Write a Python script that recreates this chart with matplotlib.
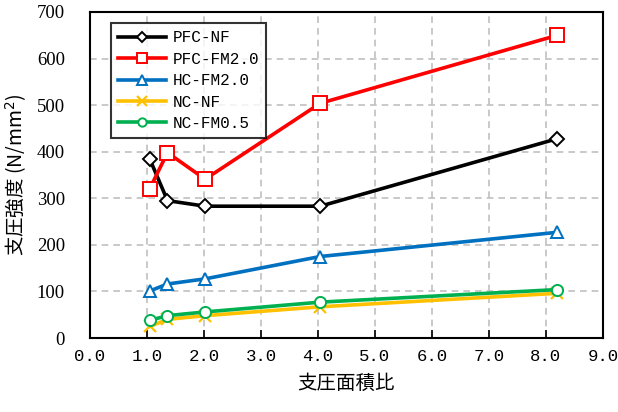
import matplotlib
matplotlib.use('Agg')
import matplotlib.pyplot as plt

x_ratio = [1.05, 1.36, 2.02, 4.04, 8.2]

pfc_nf = [384, 295, 283, 283, 428]
pfc_fm20 = [321, 398, 341, 504, 650]
hc_fm20 = [101, 116, 127, 175, 227]
nc_nf = [25, 40, 48, 67, 96]
nc_fm05 = [38, 48, 56, 77, 104]

labels = ['PFC-NF', 'PFC-FM2.0', 'HC-FM2.0', 'NC-NF', 'NC-FM0.5']
colors = ['black', '#ff0000', '#0070c0', '#ffc000', '#00b050']
markers = ['D', 's', '^', 'x', 'o']
msizes = [7, 10, 9, 9, 8]

xticks = [0, 1, 2, 3, 4, 5, 6, 7, 8, 9]
yticks = [0, 100, 200, 300, 400, 500, 600, 700]

mono = ['Liberation Mono', 'Noto Sans CJK JP']
cjk = ['Noto Sans CJK JP', 'Liberation Serif']

fig = plt.figure(figsize=(6.18, 4.12), dpi=100)
ax = fig.add_axes([0.1456, 0.1796, 0.83, 0.7913])

series = [pfc_nf, pfc_fm20, hc_fm20, nc_nf, nc_fm05]
for y, lab, c, m, ms in zip(series, labels, colors, markers, msizes):
    if m == 'x':
        ax.plot(x_ratio, y, color=c, lw=2.6, marker=m, ms=ms, mew=1.6, label=lab)
    else:
        ax.plot(x_ratio, y, color=c, lw=2.6, marker=m, ms=ms, mew=1.4,
                mfc='white', mec=c, label=lab)

ax.set_xlim(0, 9)
ax.set_ylim(0, 700)
ax.set_xticks(xticks)
ax.set_yticks(yticks)
ax.set_xticklabels(['%.1f' % v for v in xticks], family=mono, fontsize=12.5)
ax.set_yticklabels([str(v) for v in yticks], family=['Liberation Serif'], fontsize=13.5)
ax.tick_params(direction='in', length=6, width=1.2, color='black')
ax.tick_params(axis='x', pad=8)
ax.tick_params(axis='y', length=0, pad=18)
ax.grid(True, color='#c0c0c0', linestyle=(0, (4, 3)), lw=1.2)
ax.set_axisbelow(True)
for s in ax.spines.values():
    s.set_linewidth(1.5)

ax.set_xlabel('支圧面積比', family=cjk, fontsize=14, labelpad=6)
ax.set_ylabel('支圧強度 (N/mm$^2$)', family=cjk, fontsize=14, labelpad=6)

leg = ax.legend(loc='upper left', bbox_to_anchor=(0.025, 0.99), prop={'family': mono, 'size': 11.5},
                frameon=True, fancybox=False, edgecolor='black', handlelength=3.0,
                labelspacing=0.4, borderpad=0.45, handletextpad=0.4, markerscale=0.75)
leg.get_frame().set_linewidth(1.5)

fig.savefig('out.png', dpi=100)
